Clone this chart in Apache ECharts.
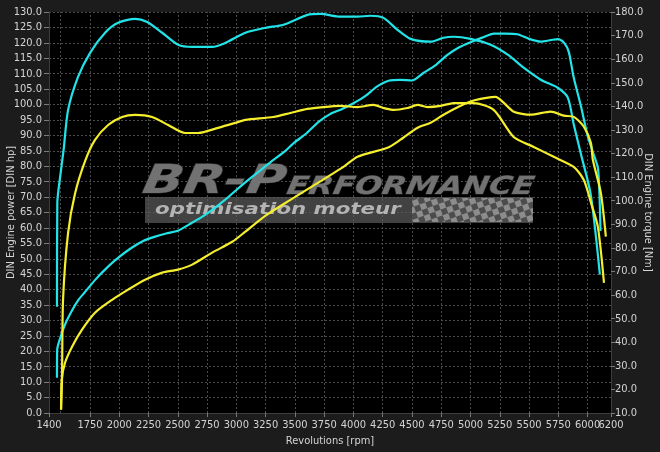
<!DOCTYPE html>
<html><head><meta charset="utf-8">
<script src="https://cdn.jsdelivr.net/npm/echarts@6/dist/echarts.min.js"></script>
<style>html,body{margin:0;padding:0;background:#1c1c1c;}#c{width:660px;height:452px;}</style>
</head><body><div id="c"></div>
<script>
// ---- data ----
const xTickLabels = [1400,1750,2000,2250,2500,2750,3000,3250,3500,3750,4000,4250,4500,4750,5000,5250,5500,5750,6000];
const xEndLabel = [6200];
const xGridLines = [1500,1750,2000,2250,2500,2750,3000,3250,3500,3750,4000,4250,4500,4750,5000,5250,5500,5750,6000];

const tunedPowerRpm = [1468,1470,1500,1525,1550,1600,1650,1700,1800,1900,2000,2100,2200,2300,2400,2500,2600,2700,2800,2900,3000,3100,3200,3300,3400,3500,3600,3700,3800,3900,4000,4100,4200,4300,4400,4500,4600,4700,4800,4900,5000,5100,5200,5300,5400,5500,5600,5700,5750,5800,5840,5880,5940,6000,6050,6090,6110];
const tunedPowerHp = [11.4,20.5,24.8,27.5,29.8,33.5,36.6,38.9,43.4,47.3,50.6,53.4,55.7,57.1,58.2,59.1,61.2,63.4,66.0,69.0,72.3,75.5,78.5,81.6,84.4,87.8,90.7,94.3,96.9,98.5,100.4,102.7,105.8,107.7,108.0,107.8,110.3,112.7,116.0,118.5,120.2,121.7,123.0,123.0,122.8,121.3,120.4,121.0,121.2,120.0,117.0,109.0,100.0,90.0,84.0,79.0,59.0];

const tunedTorqueRpm = [1468,1471,1500,1525,1563,1648,1751,1879,1990,2136,2238,2367,2503,2623,2794,2906,3077,3248,3402,3607,3718,3889,4034,4146,4257,4377,4488,4659,4770,4856,5001,5172,5318,5454,5600,5745,5831,5882,5942,6027,6105];
const tunedTorqueNm = [55.0,99.2,112.0,121.6,138.5,152.5,162.7,171.2,175.4,177.1,175.8,171.2,166.1,165.2,165.2,166.9,171.2,173.3,174.6,178.8,179.2,178.0,178.0,178.4,177.5,172.4,168.6,167.4,169.1,169.5,168.6,166.1,161.9,156.4,151.3,147.9,143.7,132.3,120.0,102.6,68.7];

const stockPowerRpm = [1503,1509,1537,1597,1682,1793,1939,2076,2221,2367,2503,2623,2794,2965,3077,3250,3462,3915,4035,4291,4402,4548,4659,4770,4916,5027,5215,5283,5369,5514,5685,5797,5882,5968,6028,6045,6113,6156];
const stockPowerHp = [1.1,10.8,16.3,21.5,27.0,32.5,36.7,40.0,43.2,45.5,46.5,48.1,52.0,55.5,58.8,64.0,69.1,79.8,83.1,86.0,88.6,92.5,94.1,96.7,99.6,101.3,102.5,100.6,97.7,96.7,97.7,96.4,96.0,92.8,87.6,82.1,71.4,57.2];

const stockTorqueRpm = [1503,1511,1520,1563,1622,1708,1793,1905,2024,2136,2281,2418,2563,2674,2845,2991,3077,3316,3462,3607,3744,3889,4035,4171,4257,4343,4462,4548,4633,4745,4856,5027,5198,5369,5540,5711,5882,5968,6030,6088,6140];
const stockTorqueNm = [11.4,24.1,58.0,86.4,103.0,116.8,125.8,132.1,135.5,136.4,135.5,132.1,128.7,128.7,130.9,133.0,134.3,135.5,137.2,138.9,139.7,140.2,139.7,140.6,139.3,138.5,139.3,140.6,139.7,140.2,141.4,141.4,138.5,127.0,122.8,118.6,114.3,108.8,99.0,88.9,65.2];

// ---- chart ----
const CYAN = '#22e4e8', YELLOW = '#f4ee2c';
const FONT = '"Liberation Sans Narrow", "DejaVu Sans Condensed", Roboto, sans-serif';
const TXT = '#d4d4d4';
const zip = (a, b) => a.map((v, i) => [v, b[i]]);

const cv = document.createElement('canvas'); cv.width = 12; cv.height = 12;
const g = cv.getContext('2d');
g.fillStyle = '#505050'; g.fillRect(0, 0, 12, 12);
g.fillStyle = '#a4a4a4'; g.fillRect(0, 0, 6, 6); g.fillRect(6, 6, 6, 6);

const chart = echarts.init(document.getElementById('c'), null, {renderer: 'canvas'});
const lineSeries = (name, rpm, vals, color, yIdx) => ({
  name, type: 'line', xAxisIndex: 0, yAxisIndex: yIdx, data: zip(rpm, vals), z: 3,
  smooth: 0.25, showSymbol: false, symbol: 'none',
  lineStyle: {color, width: 2.2}, itemStyle: {color}, animation: false
});

const series = [
  lineSeries('Tuned power', tunedPowerRpm, tunedPowerHp, CYAN, 0),
  lineSeries('Tuned torque', tunedTorqueRpm, tunedTorqueNm, CYAN, 1),
  lineSeries('Stock power', stockPowerRpm, stockPowerHp, YELLOW, 0),
  lineSeries('Stock torque', stockTorqueRpm, stockTorqueNm, YELLOW, 1)
];
series[0].markLine = {
  silent: true, symbol: ['none', 'none'], z: 1, animation: false,
  label: {show: false},
  lineStyle: {color: '#4c4c4c', type: [2, 2], width: 1},
  data: xGridLines.map(v => ({xAxis: v}))
};

const xCommon = {
  type: 'value', min: 1400, max: 6200, position: 'bottom', offset: 0,
  splitLine: {show: false}
};

chart.setOption({
  backgroundColor: '#1c1c1c',
  animation: false,
  grid: {left: 49, right: 49, top: 12, bottom: 39, show: true, backgroundColor: '#000', borderWidth: 0,
    containLabel: false, outerBoundsMode: 'none'},
  xAxis: [Object.assign({}, xCommon, {
    name: 'Revolutions [rpm]', nameLocation: 'middle', nameGap: 23,
    nameTextStyle: {color: TXT, fontSize: 11, fontFamily: FONT},
    axisLine: {show: true, lineStyle: {color: '#3c3c3c'}},
    axisTick: {show: true, length: 4, lineStyle: {color: '#7a7a7a'}, customValues: xTickLabels},
    axisLabel: {color: TXT, fontSize: 11, fontFamily: FONT, margin: 7, customValues: xTickLabels,
      hideOverlap: false, formatter: v => String(v)}
  }), Object.assign({}, xCommon, {
    axisLine: {show: false},
    axisTick: {show: true, length: 4, lineStyle: {color: '#7a7a7a'}, customValues: xEndLabel},
    axisLabel: {color: TXT, fontSize: 11, fontFamily: FONT, margin: 7, customValues: xEndLabel,
      formatter: v => String(v)}
  })],
  yAxis: [{
    type: 'value', min: 0, max: 130, interval: 5, position: 'left',
    name: 'DIN Engine power [DIN hp]', nameLocation: 'middle', nameGap: 32, nameRotate: 90,
    nameMoveOverlap: false,
    nameTextStyle: {color: TXT, fontSize: 11, fontFamily: FONT},
    axisLine: {show: true, lineStyle: {color: '#3c3c3c'}},
    axisTick: {show: true, length: 5, lineStyle: {color: '#7a7a7a'}},
    axisLabel: {color: TXT, fontSize: 11, fontFamily: FONT, margin: 7, formatter: v => v.toFixed(1)},
    splitLine: {show: true, lineStyle: {color: '#4c4c4c', type: [2, 2], width: 1}}
  }, {
    type: 'value', min: 10, max: 180, interval: 10, position: 'right',
    name: 'DIN Engine torque [Nm]', nameLocation: 'middle', nameGap: 31, nameRotate: -90,
    nameMoveOverlap: false,
    nameTextStyle: {color: TXT, fontSize: 11, fontFamily: FONT},
    axisLine: {show: true, lineStyle: {color: '#3c3c3c'}},
    axisTick: {show: true, length: 4, lineStyle: {color: '#7a7a7a'}},
    axisLabel: {color: TXT, fontSize: 11, fontFamily: FONT, margin: 4, formatter: v => v.toFixed(1)},
    splitLine: {show: false}
  }],
  graphic: [
    {type: 'rect', z: 2, silent: true, shape: {x: 145, y: 197, width: 388, height: 26},
      style: {fill: 'rgba(92,92,92,0.72)'}},
    {type: 'rect', z: 2, silent: true, shape: {x: 412, y: 198, width: 121, height: 24},
      style: {fill: {image: cv, repeat: 'repeat', rotation: -0.35}, opacity: 0.75}},
    {type: 'text', z: 2, silent: true, x: 143, y: 183, scaleX: 1.33, skewX: -0.18,
      style: {text: 'BR-P', font: 'italic bold 40px "DejaVu Sans"', fill: '#727272', stroke: '#2a2a2a', lineWidth: 1,
        verticalAlign: 'middle', textVerticalAlign: 'middle', align: 'left', textAlign: 'left'}},
    {type: 'text', z: 2, silent: true, x: 287, y: 187, scaleX: 1.27, skewX: -0.18,
      style: {text: 'ERFORMANCE', font: 'italic bold 25px "DejaVu Sans"', fill: '#727272', stroke: '#2a2a2a', lineWidth: 1,
        verticalAlign: 'middle', textVerticalAlign: 'middle', align: 'left', textAlign: 'left'}},
    {type: 'text', z: 2, silent: true, x: 155, y: 210, scaleX: 1.42,
      style: {text: 'optimisation moteur', font: 'italic bold 15px "DejaVu Sans"', fill: '#b4b4b4',
        verticalAlign: 'middle', textVerticalAlign: 'middle', align: 'left', textAlign: 'left'}}
  ],
  series
});
</script></body></html>
